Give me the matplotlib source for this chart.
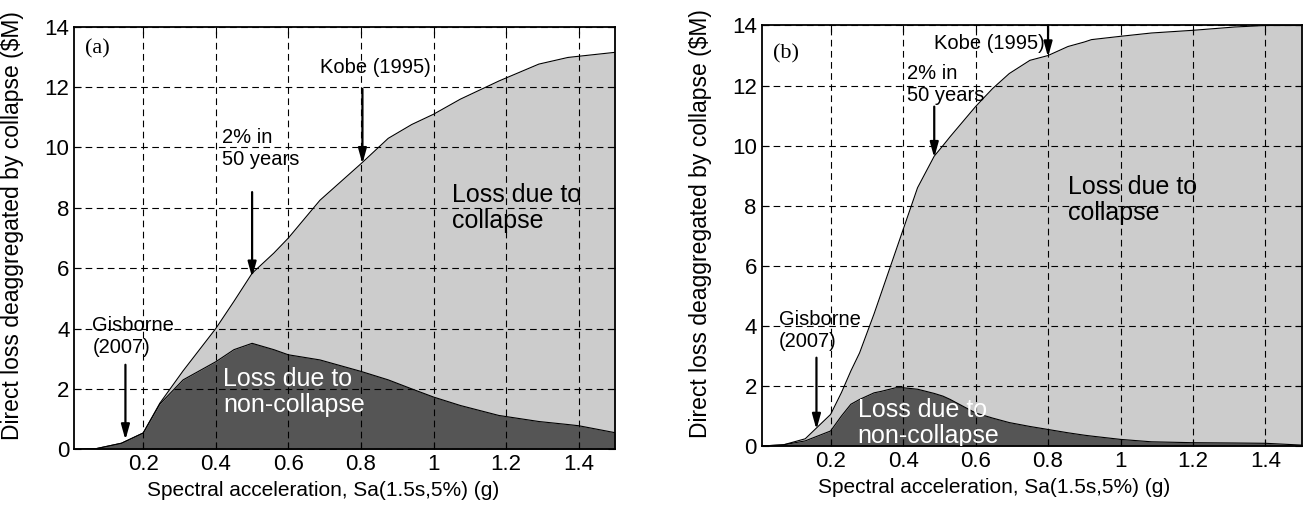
import numpy as np
import matplotlib
matplotlib.use('Agg')
import matplotlib.pyplot as plt

plt.rcParams['font.family'] = ['Liberation Sans', 'DejaVu Sans']

###########################################################
# data

# panel (a)
sa_a = [0.01, 0.07, 0.14, 0.20, 0.246, 0.31, 0.40, 0.45, 0.50, 0.56, 0.60,
        0.687, 0.80, 0.875, 0.94, 1.00, 1.074, 1.18, 1.29, 1.37, 1.40, 1.50]
total_a = [0.0, 0.02, 0.20, 0.54, 1.53, 2.60, 4.00, 4.90, 5.83, 6.50, 7.00,
           8.25, 9.46, 10.30, 10.76, 11.10, 11.60, 12.20, 12.76, 12.98, 13.02, 13.15]
noncol_a = [0.0, 0.02, 0.20, 0.54, 1.50, 2.30, 2.90, 3.30, 3.51, 3.30, 3.13,
            2.96, 2.58, 2.30, 2.00, 1.73, 1.45, 1.12, 0.92, 0.82, 0.78, 0.55]

# panel (b)
sa_b = [0.01, 0.07, 0.13, 0.20, 0.23, 0.256, 0.28, 0.32, 0.34, 0.38, 0.40,
        0.44, 0.486, 0.51, 0.53, 0.60, 0.647, 0.693, 0.75, 0.80, 0.855, 0.90,
        0.92, 1.00, 1.085, 1.20, 1.315, 1.40, 1.50]
total_b = [0.0, 0.04, 0.24, 1.05, 1.78, 2.50, 3.10, 4.40, 5.10, 6.50, 7.20,
           8.60, 9.65, 10.00, 10.30, 11.30, 11.90, 12.40, 12.84, 13.00, 13.30, 13.45,
           13.53, 13.64, 13.75, 13.84, 13.95, 14.00, 14.00]
noncol_b = [0.0, 0.04, 0.17, 0.50, 1.00, 1.39, 1.55, 1.77, 1.82, 1.94, 1.94,
            1.89, 1.75, 1.66, 1.55, 1.10, 0.93, 0.78, 0.65, 0.55, 0.44, 0.36,
            0.33, 0.22, 0.14, 0.11, 0.10, 0.09, 0.03]

# annotations: (label, text x, text y, align, arrow x, arrow top, arrow tip)
events_a = [('Gisborne\n(2007)', 0.06, 3.75, 'left', 0.151, 2.80, 0.31),
            ('2% in\n50 years', 0.418, 9.95, 'left', 0.50, 8.52, 5.70),
            ('Kobe (1995)', 0.688, 12.65, 'left', 0.804, 11.94, 9.46)]
events_b = [('Gisborne\n(2007)', 0.057, 3.85, 'left', 0.161, 2.94, 0.55),
            ('2% in\n50 years', 0.41, 12.05, 'left', 0.486, 11.30, 9.60),
            ('Kobe (1995)', 0.792, 13.4, 'right', 0.80, 14.0, 12.95)]

xticks = [0.2, 0.4, 0.6, 0.8, 1.0, 1.2, 1.4]
xticklabels = ['0.2', '0.4', '0.6', '0.8', '1', '1.2', '1.4']
yticks = [0, 2, 4, 6, 8, 10, 12, 14]

###########################################################
# functions

def draw_panel(ax, sa, total, noncol, events, tag, tag_y, col_xy, non_xy, xlab_x):
    ax.fill_between(sa, 0, total, color='#cccccc', lw=0, zorder=1)
    ax.fill_between(sa, 0, noncol, color='#555555', lw=0, zorder=1.2)
    ax.plot(sa, total, color='k', lw=0.8, zorder=1.5)
    ax.plot(sa, noncol, color='k', lw=0.8, zorder=1.5)

    ax.set_xlim(0.01, 1.5)
    ax.set_ylim(0, 14)
    ax.set_xticks(xticks)
    ax.set_xticklabels(xticklabels)
    ax.set_yticks(yticks)
    ax.tick_params(direction='in', length=5, labelsize=16, top=True, right=True)
    ax.set_axisbelow(False)
    ax.grid(True, color='k', ls=(0, (6, 4)), lw=0.8)
    for s in ax.spines.values():
        s.set_linewidth(1.3)
        s.set_zorder(3)

    ax.set_xlabel('Spectral acceleration, Sa(1.5s,5%) (g)', fontsize=15)
    ax.set_ylabel('Direct loss deaggregated by collapse ($M)', fontsize=16.5)
    ax.xaxis.set_label_coords(xlab_x, -0.075)
    ax.yaxis.set_label_coords(-0.093, 0.53)

    ax.text(0.04, tag_y, tag, family=['Liberation Serif', 'DejaVu Serif'],
            fontsize=16, va='center', ha='left')

    for label, tx, ty, ha, axx, y0, y1 in events:
        ax.text(tx, ty, label, fontsize=14.5, ha=ha, va='center',
                linespacing=1.2, zorder=4)
        ax.annotate('', xy=(axx, y1), xytext=(axx, y0),
                    arrowprops=dict(arrowstyle='-|>,head_length=0.9,head_width=0.25',
                                    color='k', lw=1.6, shrinkA=0, shrinkB=0),
                    zorder=4)

    ax.text(col_xy[0], col_xy[1], 'Loss due to\ncollapse', fontsize=18,
            ha='left', va='center', linespacing=1.1, zorder=4)
    ax.text(non_xy[0], non_xy[1], 'Loss due to\nnon-collapse', fontsize=18,
            color='white', ha='left', va='center', linespacing=1.1,
            zorder=4, clip_on=True)

###########################################################
# main program

fig = plt.figure(figsize=(13.05, 5.13), dpi=100)
ax1 = fig.add_axes([0.0569, 0.1242, 0.4144, 0.8238])
ax2 = fig.add_axes([0.5837, 0.1306, 0.4138, 0.8197])

draw_panel(ax1, sa_a, total_a, noncol_a, events_a, '(a)', 13.25,
           (1.05, 8.0), (0.42, 1.9), 0.46)
draw_panel(ax2, sa_b, total_b, noncol_b, events_b, '(b)', 13.05,
           (0.855, 8.2), (0.275, 0.76), 0.43)

fig.savefig('out.png', dpi=100)
